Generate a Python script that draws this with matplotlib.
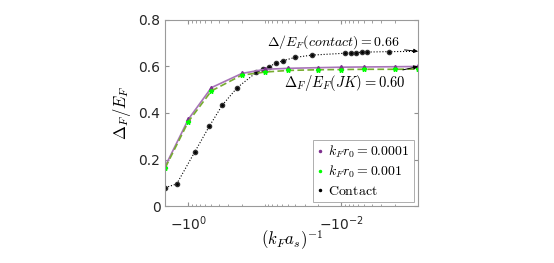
import matplotlib
matplotlib.use('Agg')
import matplotlib.pyplot as plt
from matplotlib.lines import Line2D
from matplotlib.ticker import FixedLocator, NullFormatter

plt.rcParams['mathtext.fontset'] = 'cm'
plt.rcParams['font.family'] = ['DejaVu Sans']

# x values are |(k_F a_s)^-1|, the axis shows them as negative numbers
x_r0 = [2, 1, 0.5, 0.2, 0.1, 0.05, 0.02, 0.01, 0.005, 0.002, 0.001]
y_r0_1e4 = [0.172, 0.373, 0.509, 0.570, 0.588, 0.592, 0.595, 0.597, 0.598, 0.599, 0.600]
y_r0_1e3 = [0.165, 0.363, 0.495, 0.563, 0.576, 0.583, 0.586, 0.587, 0.588, 0.588, 0.589]

x_contact = [2.0, 1.42, 0.82, 0.53, 0.36, 0.23, 0.129, 0.105, 0.088, 0.0726, 0.0578,
             0.0406, 0.0242, 0.00906, 0.00756, 0.00651, 0.00544, 0.00468, 0.00242, 0.001]
y_contact = [0.079, 0.095, 0.234, 0.344, 0.434, 0.509, 0.575, 0.588, 0.599, 0.614, 0.625,
             0.639, 0.649, 0.657, 0.659, 0.660, 0.661, 0.662, 0.664, 0.665]

xticks = [1, 0.01]
xticklabels = ['$-10^{0}$', '$-10^{-2}$']
yticks = [0, 0.2, 0.4, 0.6, 0.8]
yticklabels = ['0', '0.2', '0.4', '0.6', '0.8']

fig = plt.figure(figsize=(5.54, 2.63), dpi=100)
ax = fig.add_axes([0.2984, 0.2167, 0.4561, 0.7073])

ax.plot(x_contact, y_contact, color='black', linestyle=':', linewidth=0.8,
        marker='o', markersize=3, markerfacecolor='black', markeredgecolor='#333333',
        markevery=list(range(len(x_contact) - 1)))
ax.plot(x_r0, y_r0_1e4, color='#a874b8', linewidth=1.2,
        marker='^', markersize=3, markerfacecolor='#7E2F8E', markeredgecolor='#7E2F8E')
ax.plot(x_r0, y_r0_1e3, color='#77AC30', linestyle='--', linewidth=1.2, dashes=(4, 2),
        marker='*', markersize=3.5, markerfacecolor='#00FF00', markeredgecolor='#00FF00')

ax.set_xscale('log')
ax.set_xlim(2, 0.001)
ax.set_ylim(0, 0.8)

ax.xaxis.set_major_locator(FixedLocator(xticks))
minors = [m * 10.0 ** e for e in range(-3, 1) for m in range(1, 10)]
minors = [v for v in minors if v not in xticks and 0.001 <= v <= 2]
ax.xaxis.set_minor_locator(FixedLocator(minors))
ax.xaxis.set_minor_formatter(NullFormatter())
ax.set_xticks(xticks)
ax.set_xticklabels(xticklabels, fontsize=10, math_fontfamily='dejavusans', color='#262626')
ax.set_yticks(yticks)
ax.set_yticklabels(yticklabels, fontsize=10, color='#262626')

ax.tick_params(which='both', direction='in', top=True, right=True, color='#909090')
ax.tick_params(which='major', length=3)
ax.tick_params(which='minor', length=1.8)
ax.tick_params(axis='x', pad=6)
for s in ax.spines.values():
    s.set_color('#9a9a9a')
    s.set_linewidth(0.8)

ax.set_xlabel('$(k_F a_s)^{-1}$', fontsize=12, labelpad=-3)
ax.set_ylabel('$\\Delta_F/E_F$', fontsize=12, labelpad=4)

ax.annotate('$\\Delta/E_F(contact) = 0.66$', xy=(0.001, 0.665), xytext=(0.0017, 0.705),
            fontsize=10, ha='right', va='center',
            arrowprops=dict(arrowstyle='-|>', color='black', lw=0.7, mutation_scale=6,
                            shrinkA=1, shrinkB=0))
ax.annotate('$\\Delta_F/E_F(JK) = 0.60$', xy=(0.001, 0.600), xytext=(0.00145, 0.529),
            fontsize=10.5, ha='right', va='center',
            arrowprops=dict(arrowstyle='-|>', color='black', lw=0.7, mutation_scale=6,
                            shrinkA=1, shrinkB=0))

handles = [
    Line2D([], [], linestyle='none', marker='.', markersize=3, color='#7E2F8E'),
    Line2D([], [], linestyle='none', marker='.', markersize=3, color='#00FF00'),
    Line2D([], [], linestyle='none', marker='.', markersize=3, color='black'),
]
labels = ['$k_F r_0 = 0.0001$', '$k_F r_0 = 0.001$', '$\\mathrm{Contact}$']
leg = ax.legend(handles, labels, loc='lower right', fontsize=10, frameon=True,
                fancybox=False, edgecolor='#9a9a9a', handlelength=0.4, handletextpad=0.4,
                borderpad=0.3, labelspacing=0.25, borderaxespad=0.3)
leg.get_frame().set_linewidth(0.7)

fig.savefig('out.png', dpi=100)
